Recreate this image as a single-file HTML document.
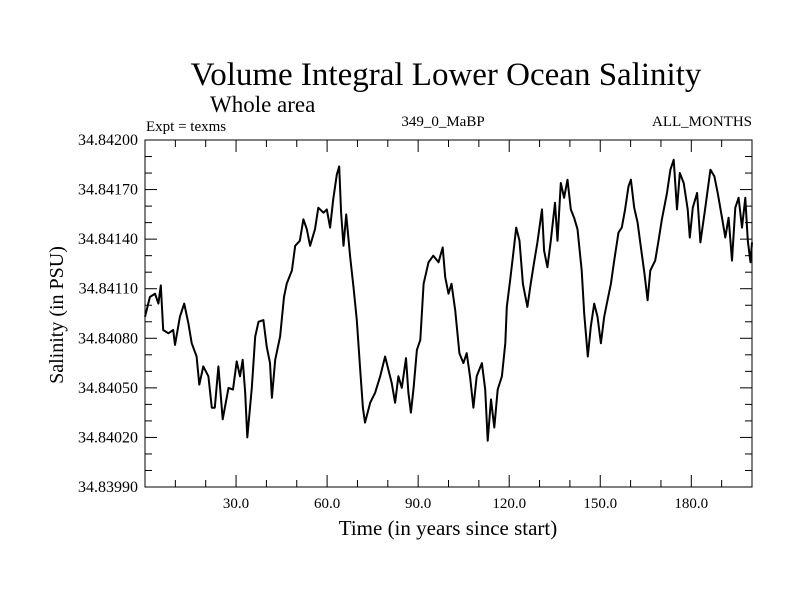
<!DOCTYPE html>
<html><head><meta charset="utf-8"><style>
html,body{margin:0;padding:0;background:#fff;}
svg{display:block;font-family:"Liberation Serif",serif;}
</style></head><body>
<svg id="chart" width="800" height="600" viewBox="0 0 800 600">
<text x="446" y="85" font-size="33" text-anchor="middle">Volume Integral Lower Ocean Salinity</text>
<text x="210" y="112" font-size="23">Whole area</text>
<text x="146" y="131" font-size="15">Expt = texms</text>
<text x="443" y="126" font-size="15" text-anchor="middle">349_0_MaBP</text>
<text x="752" y="126" font-size="15" text-anchor="end">ALL_MONTHS</text>
<text x="448" y="535" font-size="21" text-anchor="middle">Time (in years since start)</text>
<text transform="translate(63,315) rotate(-90)" font-size="20" text-anchor="middle">Salinity (in PSU)</text>
<g id="axes"></g>
<g id="plot"></g>
</svg>
<script>
const years = [0,1.6,3.3,4.4,5.2,6,7.7,9.3,9.9,11.5,12.9,14.3,15.4,17,17.9,19.2,20.9,22,23,24.2,25.6,27.5,29,30.2,31.3,32.2,33,33.7,35.2,36.3,37.4,39,40.1,41.2,41.8,42.9,44.5,45.8,46.7,48.4,49.5,51,52.2,53.3,54.4,56,57.1,58.8,59.9,61,62,63.2,64,64.6,65.4,66.3,67.6,68.7,69.8,70.9,71.8,72.5,74.2,75.8,77.5,79.1,80.2,81.3,82.4,83.5,84.6,86,86.8,87.6,88.5,89.6,90.7,91.8,93.4,95,96.7,98.1,98.9,100,101,102.2,103.6,104.9,106,107.1,108.2,109.3,111,112.1,112.9,114,115.1,116.2,117.6,118.7,119.2,120.3,121.4,122.3,123.4,124.5,126,127.1,128.2,129.3,130.8,131.5,132.6,133.7,135.1,135.9,137,138.1,139.2,140.3,141.4,142.5,143.9,144.7,145.9,146.9,148,149.1,150.2,151.3,152.4,153.5,154.6,156,157.1,158.2,159.3,160.1,161.2,162.3,163.4,164.5,165.6,166.5,168.1,169.2,170.3,172,173.1,174.2,175.3,176.2,177.5,178.8,179.5,180.5,181.9,183,184.6,186.3,187.6,188.7,190.1,191.2,192.3,193.4,194.5,195.6,196.7,197.8,198.6,199.5,200];
const salinity = [34.84093,34.84105,34.84107,34.84101,34.84112,34.84085,34.84083,34.84085,34.84076,34.84093,34.84101,34.84089,34.84077,34.84069,34.84052,34.84063,34.84057,34.84038,34.84038,34.84063,34.84031,34.84050,34.84049,34.84066,34.84057,34.84067,34.84047,34.84020,34.84050,34.84081,34.84090,34.84091,34.84075,34.84065,34.84044,34.84067,34.84081,34.84105,34.84113,34.84121,34.84136,34.84139,34.84152,34.84146,34.84136,34.84146,34.84159,34.84156,34.84158,34.84147,34.84164,34.84179,34.84184,34.84156,34.84136,34.84155,34.84129,34.84111,34.84091,34.84061,34.84038,34.84029,34.84041,34.84047,34.84057,34.84069,34.84061,34.84053,34.84041,34.84057,34.84050,34.84068,34.84047,34.84035,34.84050,34.84073,34.84079,34.84113,34.84126,34.84130,34.84126,34.84135,34.84117,34.84107,34.84113,34.84097,34.84071,34.84065,34.84071,34.84057,34.84038,34.84057,34.84065,34.84049,34.84018,34.84043,34.84026,34.84049,34.84057,34.84077,34.84099,34.84115,34.84132,34.84147,34.84139,34.84113,34.84099,34.84113,34.84126,34.84138,34.84158,34.84133,34.84123,34.84139,34.84162,34.84139,34.84174,34.84165,34.84176,34.84158,34.84153,34.84146,34.84121,34.84095,34.84069,34.84087,34.84101,34.84093,34.84077,34.84093,34.84103,34.84113,34.84127,34.84144,34.84147,34.84158,34.84172,34.84176,34.84159,34.84150,34.84135,34.84120,34.84103,34.84121,34.84127,34.84139,34.84152,34.84168,34.84182,34.84188,34.84158,34.84180,34.84174,34.84158,34.84141,34.84159,34.84168,34.84138,34.84159,34.84182,34.84178,34.84168,34.84153,34.84141,34.84153,34.84127,34.84159,34.84165,34.84147,34.84165,34.84139,34.84126,34.84138];
const xTickLabels = ["30.0","60.0","90.0","120.0","150.0","180.0"];
const yTickLabels = ["34.83990","34.84020","34.84050","34.84080","34.84110","34.84140","34.84170","34.84200"];

const L=145,R=752,T=140,B=487;
const xMin=0,xMax=200,yMin=34.8399,yMax=34.842;
const sx=v=>L+(v-xMin)/(xMax-xMin)*(R-L);
const sy=v=>B-(v-yMin)/(yMax-yMin)*(B-T);
const NS="http://www.w3.org/2000/svg";
function mk(tag,attrs,parent){const e=document.createElementNS(NS,tag);for(const k in attrs)e.setAttribute(k,attrs[k]);parent.appendChild(e);return e;}
const axes=document.getElementById('axes'),plot=document.getElementById('plot');

const frame=mk('rect',{x:L,y:T,width:R-L,height:B-T,fill:'none',stroke:'#000','stroke-width':1},axes);



for(let yr=10;yr<200;yr+=10){
  const x=sx(yr),major=yr%30===0,len=major?12:7;
  const t1=mk('line',{x1:x,y1:B,x2:x,y2:B-len,stroke:'#000','stroke-width':1},axes);
  
  
  const t2=mk('line',{x1:x,y1:T,x2:x,y2:T+len,stroke:'#000','stroke-width':1},axes);
  
  
}
xTickLabels.forEach(s=>{
  const t=mk('text',{x:sx(parseFloat(s)),y:B+21,'font-size':15,'text-anchor':'middle'},axes);
  t.textContent=s;
  
  
});
for(let i=1;i<21;i++){
  const v=yMin+i*0.0001,y=sy(v),major=i%3===0,len=major?12:7;
  const t1=mk('line',{x1:L,y1:y,x2:L+len,y2:y,stroke:'#000','stroke-width':1},axes);
  
  
  const t2=mk('line',{x1:R,y1:y,x2:R-len,y2:y,stroke:'#000','stroke-width':1},axes);
  
  
}
yTickLabels.forEach(s=>{
  const t=mk('text',{x:L-7,y:sy(parseFloat(s))+5,'font-size':16,'text-anchor':'end'},axes);
  t.textContent=s;
  
  
});
const d=years.map((yr,i)=>(i?'L':'M')+sx(yr).toFixed(1)+' '+sy(salinity[i]).toFixed(1)).join(' ');
const line=mk('path',{d:d,fill:'none',stroke:'#000','stroke-width':2,'stroke-linejoin':'round'},plot);


</script>
</body></html>
